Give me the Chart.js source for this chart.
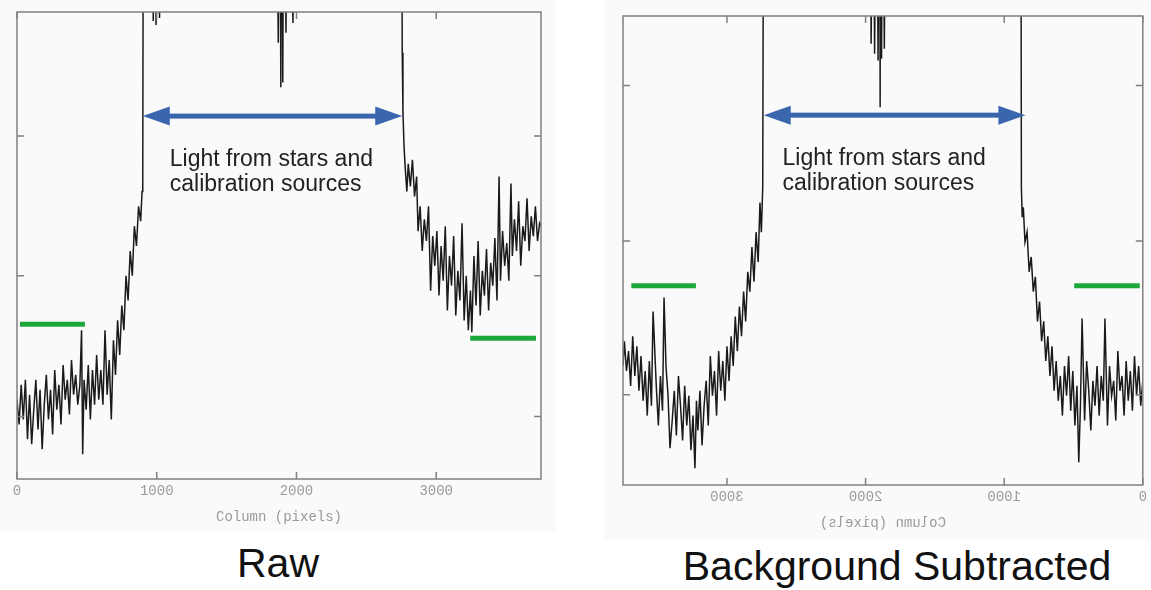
<!DOCTYPE html>
<html>
<head>
<meta charset="utf-8">
<script src="https://cdn.jsdelivr.net/npm/chart.js@4.4.1/dist/chart.umd.min.js"></script>
<style>
  body { margin: 0; background: #fff; width: 1151px; height: 590px; position: relative; overflow: hidden; font-family: "Liberation Sans", Arial, sans-serif; }
  .panel { position: absolute; background: #fafafa; }
  .box { position: absolute; }
  #boxSub { transform: scaleX(-1); }
  .caption { position: absolute; font-size: 41px; line-height: 40px; color: #111; white-space: nowrap; transform: translateX(-50%); }
</style>
</head>
<body>
<div class="panel" style="left:0;top:0;width:556px;height:532px"></div>
<div class="panel" style="left:604px;top:0;width:547px;height:540px"></div>
<div class="box" style="left:0;top:0;width:560px;height:540px"><canvas id="cRaw"></canvas></div>
<div class="box" id="boxSub" style="left:600px;top:0;width:551px;height:540px"><canvas id="cSub"></canvas></div>
<div class="caption" style="left:278px;top:543px">Raw</div>
<div class="caption" style="left:897px;top:546px">Background Subtracted</div>

<script>
// ==================== DATOS ====================
const colTicks = [0, 1000, 2000, 3000];
const colMax = 3750;

// --- Raw ---
const rawCols = [
  // fondo a la izquierda
  0, 15, 30, 45, 60, 75, 90, 105, 120, 135, 150, 165, 180, 195, 210, 225, 240, 255, 270, 285, 300, 315, 330, 345, 360, 375, 390, 405, 420,
  // subida
  435, 450, 462, 470, 480, 495, 510, 525, 540, 555, 570, 585, 600, 615, 630, 645, 660, 675, 690, 705, 720, 735, 750, 765, 780, 795, 810, 825, 840, 855, 870, 885, 895, 900,
  // zona saturada
  905, 960, 975, 985, 995, 1005, 1020, 1035, 1850, 1870, 1880, 1888, 1895, 1902, 1910, 1925, 1935, 1975, 1985, 2750,
  // bajada y fondo a la derecha
  2757, 2762, 2770, 2780, 2790, 2800, 2815, 2830, 2845, 2860, 2870, 2885, 2900, 2915, 2930, 2945, 2960, 2975, 2990, 3005,
  3020, 3035, 3050, 3065, 3080, 3095, 3110, 3125, 3140, 3155, 3170, 3185, 3200, 3215, 3230, 3245, 3255, 3270, 3285, 3300,
  3315, 3330, 3345, 3360, 3375, 3390, 3405, 3420, 3435, 3450, 3460, 3475, 3490, 3505, 3520, 3535, 3545, 3560, 3575, 3590,
  3605, 3620, 3635, 3650, 3665, 3680, 3695, 3710, 3725, 3740, 3750
];
const rawLevels = [
  80, 55, 95, 60, 100, 40, 85, 35, 70, 100, 50, 90, 30, 75, 105, 60, 90, 45, 110, 70, 95, 55, 115, 80, 100, 65, 120, 85, 105,
  75, 95, 150, 25, 100, 70, 115, 60, 110, 75, 125, 80, 110, 75, 150, 85, 120, 60, 140, 105, 160, 125, 175, 150, 205, 180, 230, 205, 255, 235, 275, 260, 290, 300,
  700, 700, 462, 700, 458, 700, 465, 700, 700, 440, 700, 395, 700, 400, 700, 450, 700, 460, 700, 700,
  430, 370, 335, 310, 290, 318, 295, 322, 285, 305, 250, 275, 230, 262, 240, 275, 190, 245, 215, 250,
  185, 235, 200, 255, 170, 225, 195, 245, 165, 210, 180, 258, 160, 205, 150, 190, 148, 225, 175, 240,
  165, 210, 185, 232, 170, 218, 195, 243, 180, 305, 200, 250, 215, 238, 200, 298, 225, 262, 230, 280,
  215, 255, 240, 283, 230, 265, 245, 275, 240, 258, 255
];
const rawLevelMax = 471;
const rawLevelTicks = [63, 205, 346];
const rawShelves = [[21, 486], [3243, 3714]];
const rawShelfLevels = [156, 142];
const rawArrow = [900, 2757];
const rawArrowLevel = 366;
const rawNoteCol = 1093;
const rawNoteLevel = 316;

// --- Background Subtracted ---
const subCols = [
  0, 15, 30, 45, 60, 75, 90, 105, 120, 135, 150, 165, 180, 195, 210, 225, 240, 255, 273, 285, 300, 315, 330, 345, 360, 375, 390, 405, 420, 438,
  450, 462, 475, 490, 505, 520, 535, 550, 565, 580, 595, 610, 625, 640, 655, 670, 685, 700, 715, 730, 745, 760, 775, 790, 805, 820, 835, 850, 862, 870, 876,
  880, 1850, 1865, 1875, 1885, 1892, 1895, 1898, 1910, 1920, 1935, 1945, 1960, 1970, 2735,
  2742, 2752, 2762, 2775, 2790, 2805, 2820, 2835, 2850, 2865, 2880, 2895, 2910, 2925, 2940, 2955, 2970, 2985, 3000, 3015,
  3030, 3045, 3060, 3075, 3090, 3105, 3120, 3135, 3150, 3165, 3180, 3195, 3210, 3220, 3231, 3245, 3260, 3275, 3290, 3305,
  3320, 3335, 3350, 3365, 3380, 3395, 3411, 3425, 3440, 3454, 3465, 3480, 3495, 3510, 3533, 3545, 3560, 3575, 3590, 3605,
  3620, 3635, 3650, 3665, 3680, 3695, 3710, 3725, 3740, 3750
];
const subLevels = [
  105, 80, 120, 90, 130, 75, 115, 85, 125, 70, 110, 95, 135, 65, 105, 90, 120, 60, 168, 85, 110, 70, 120, 80, 105, 55, 95, 125, 65, 168,
  80, 23, 100, 60, 115, 75, 130, 90, 120, 70, 110, 85, 125, 95, 140, 110, 150, 125, 165, 145, 185, 165, 210, 195, 230, 215, 255, 245, 280, 270, 300,
  700, 700, 440, 700, 430, 700, 381, 700, 428, 700, 435, 700, 445, 700, 700,
  300, 255, 285, 225, 255, 205, 240, 195, 215, 165, 195, 150, 180, 135, 170, 120, 150, 105, 140, 85,
  125, 95, 135, 70, 115, 90, 130, 60, 105, 80, 40, 95, 55, 85, 17, 70, 35, 90, 60, 100,
  45, 80, 110, 50, 95, 65, 37, 90, 120, 189, 75, 110, 60, 100, 175, 80, 125, 70, 115, 85,
  130, 95, 140, 110, 150, 100, 135, 115, 145, 120
];
const subLevelMax = 473;
const subLevelTicks = [91, 246, 403];
const subShelves = [[22, 495], [3224, 3690]];
const subShelfLevels = [201, 201];
const subArrow = [847, 2735];
const subArrowLevel = 373;
const subNoteCol = 2599;
const subNoteLevel = 323;

const noteLines = ["Light from stars and", "calibration sources"];

// ==================== PLUGIN: marco, flecha, texto ====================
function makePanelPlugin(cfg) {
  return {
    id: 'panel' + cfg.name,
    afterDatasetsDraw(chart) {
      const ctx = chart.ctx;
      const a = chart.chartArea;
      const x = chart.scales.x, y = chart.scales.y;
      ctx.save();

      // marco y marcas interiores
      ctx.strokeStyle = '#808080';
      ctx.lineWidth = 1.5;
      ctx.strokeRect(a.left, a.top, a.right - a.left, a.bottom - a.top);
      ctx.beginPath();
      colTicks.forEach(v => {
        const px = x.getPixelForValue(v);
        ctx.moveTo(px, a.bottom); ctx.lineTo(px, a.bottom - 7);
        ctx.moveTo(px, a.top); ctx.lineTo(px, a.top + 7);
      });
      cfg.levelTicks.forEach(v => {
        const py = y.getPixelForValue(v);
        ctx.moveTo(a.left, py); ctx.lineTo(a.left + 7, py);
        ctx.moveTo(a.right, py); ctx.lineTo(a.right - 7, py);
      });
      ctx.stroke();

      // flecha doble
      const x1 = x.getPixelForValue(cfg.arrow[0]);
      const x2 = x.getPixelForValue(cfg.arrow[1]);
      const l = Math.min(x1, x2), r = Math.max(x1, x2);
      const ay = y.getPixelForValue(cfg.arrowLevel);
      ctx.fillStyle = '#3a66ae';
      ctx.fillRect(l + 20, ay - 2.5, r - l - 40, 5);
      ctx.beginPath();
      ctx.moveTo(l, ay); ctx.lineTo(l + 27, ay - 9.5); ctx.lineTo(l + 27, ay + 9.5); ctx.closePath();
      ctx.moveTo(r, ay); ctx.lineTo(r - 27, ay - 9.5); ctx.lineTo(r - 27, ay + 9.5); ctx.closePath();
      ctx.fill();

      // texto
      const tx = x.getPixelForValue(cfg.noteCol);
      const ty = y.getPixelForValue(cfg.noteLevel);
      ctx.fillStyle = '#222';
      ctx.font = '23px "Liberation Sans", Arial, sans-serif';
      ctx.textAlign = 'left';
      ctx.textBaseline = 'alphabetic';
      noteLines.forEach((line, i) => {
        ctx.save();
        ctx.translate(tx, ty + i * 25);
        if (cfg.mirrored) ctx.scale(-1, 1);
        ctx.fillText(line, 0, 0);
        ctx.restore();
      });
      ctx.restore();
    }
  };
}

function buildChart(id, cfg) {
  const trace = cfg.cols.map((c, i) => ({ x: c, y: cfg.levels[i] }));
  const shelfSets = cfg.shelves.map((s, i) => ({
    data: [{ x: s[0], y: cfg.shelfLevels[i] }, { x: s[1], y: cfg.shelfLevels[i] }],
    borderColor: '#1ea83c',
    borderWidth: 5,
    borderCapStyle: 'butt'
  }));
  const axisFont = { family: '"Liberation Mono", "DejaVu Sans Mono", monospace', size: 14 };

  return new Chart(document.getElementById(id).getContext('2d'), {
    type: 'line',
    data: {
      datasets: [
        ...shelfSets,
        { data: trace, borderColor: '#1a1a1a', borderWidth: 1.5 }
      ]
    },
    options: {
      responsive: true,
      maintainAspectRatio: false,
      animation: false,
      layout: { padding: cfg.padding },
      elements: { point: { radius: 0 }, line: { tension: 0 } },
      plugins: { legend: { display: false }, tooltip: { enabled: false } },
      scales: {
        x: {
          type: 'linear',
          min: 0,
          max: colMax,
          afterBuildTicks: s => { s.ticks = colTicks.map(v => ({ value: v })); },
          grid: { display: false, drawTicks: false },
          border: { display: false },
          ticks: { color: '#9a9a9a', font: axisFont, padding: 4, maxRotation: 0, callback: v => String(v) },
          title: { display: true, text: 'Column (pixels)', color: '#9a9a9a', font: axisFont, padding: { top: 5, bottom: 0 } }
        },
        y: { display: false, min: 0, max: cfg.levelMax }
      }
    },
    plugins: [makePanelPlugin(cfg)]
  });
}

document.addEventListener("DOMContentLoaded", () => {
  buildChart('cRaw', {
    name: 'Raw', cols: rawCols, levels: rawLevels, levelMax: rawLevelMax, levelTicks: rawLevelTicks,
    shelves: rawShelves, shelfLevels: rawShelfLevels, arrow: rawArrow, arrowLevel: rawArrowLevel,
    noteCol: rawNoteCol, noteLevel: rawNoteLevel, mirrored: false,
    padding: { left: 17, top: 12, right: 19, bottom: 14.4 }
  });
  buildChart('cSub', {
    name: 'Sub', cols: subCols, levels: subLevels, levelMax: subLevelMax, levelTicks: subLevelTicks,
    shelves: subShelves, shelfLevels: subShelfLevels, arrow: subArrow, arrowLevel: subArrowLevel,
    noteCol: subNoteCol, noteLevel: subNoteLevel, mirrored: true,
    padding: { left: 6, top: 16, right: 23, bottom: 8.4 }
  });
});
</script>
</body>
</html>
